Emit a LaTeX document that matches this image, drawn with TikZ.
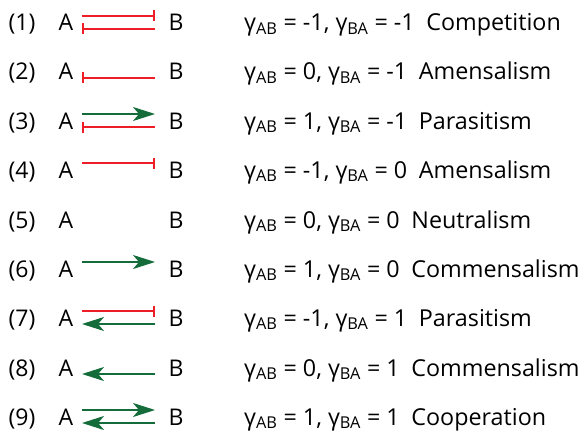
\documentclass[tikz,border=0pt]{standalone}
\usepackage{fontspec}
\setmainfont{Open Sans}
\usetikzlibrary{arrows.meta}
\definecolor{inhred}{RGB}{237,30,38}
\definecolor{actgreen}{RGB}{20,108,58}
\tikzset{
  lbl/.style={anchor=base, inner sep=0pt, font=\fontsize{23}{27}\selectfont},
  eqtxt/.style={anchor=base west, inner sep=0pt, font=\fontsize{23.3}{27}\selectfont},
  inh/.style={draw=inhred, line width=2pt, -{Bar[width=11pt, line width=2pt]}},
  act/.style={draw=actgreen, line width=2pt, -{Stealth[length=22pt, width=14pt, inset=6pt]}},
}
\newcommand{\gab}{γ\textsubscript{AB}}
\newcommand{\gba}{γ\textsubscript{BA}}
\begin{document}
\begin{tikzpicture}[x=1pt, y=-1pt]
\useasboundingbox (0,0) rectangle (588,433);
\foreach \i/\txt [count=\k from 0] in {
  1/{\gab{} = -1, \gba{} = -1\enspace Competition},
  2/{\gab{} = 0, \gba{} = -1\enspace Amensalism},
  3/{\gab{} = 1, \gba{} = -1\enspace Parasitism},
  4/{\gab{} = -1, \gba{} = 0\enspace Amensalism},
  5/{\gab{} = 0, \gba{} = 0\enspace Neutralism},
  6/{\gab{} = 1, \gba{} = 0\enspace Commensalism},
  7/{\gab{} = -1, \gba{} = 1\enspace Parasitism},
  8/{\gab{} = 0, \gba{} = 1\enspace Commensalism},
  9/{\gab{} = 1, \gba{} = 1\enspace Cooperation}} {
  \pgfmathsetmacro{\yy}{round(22.5+49.3*\k)}
  \node[lbl] (n\i) at (22,\yy+8) {(\i)};
  \node[lbl] (a\i) at (66,\yy+8) {A};
  \node[lbl] (b\i) at (176,\yy+8) {B};
  \node[eqtxt] (e\i) at (244,\yy+8) {\txt};
  \coordinate (aT\i) at (82,\yy-7);
  \coordinate (bT\i) at (155,\yy-7);
  \coordinate (aB\i) at (82,\yy+6);
  \coordinate (bB\i) at (155,\yy+6);
}
% (1)
\draw[inh] (aT1) -- (bT1);
\draw[inh] (bB1) -- (aB1);
% (2)
\draw[inh] (bB2) -- (aB2);
% (3)
\draw[act] (aT3) -- (bT3);
\draw[inh] (bB3) -- (aB3);
% (4)
\draw[inh] (aT4) -- (bT4);
% (6)
\draw[act] (aT6) -- (bT6);
% (7)
\draw[inh] (aT7) -- (bT7);
\draw[act] (bB7) -- (aB7);
% (8)
\draw[act] (bB8) -- (aB8);
% (9)
\draw[act] (aT9) -- (bT9);
\draw[act] (bB9) -- (aB9);
\end{tikzpicture}
\end{document}
